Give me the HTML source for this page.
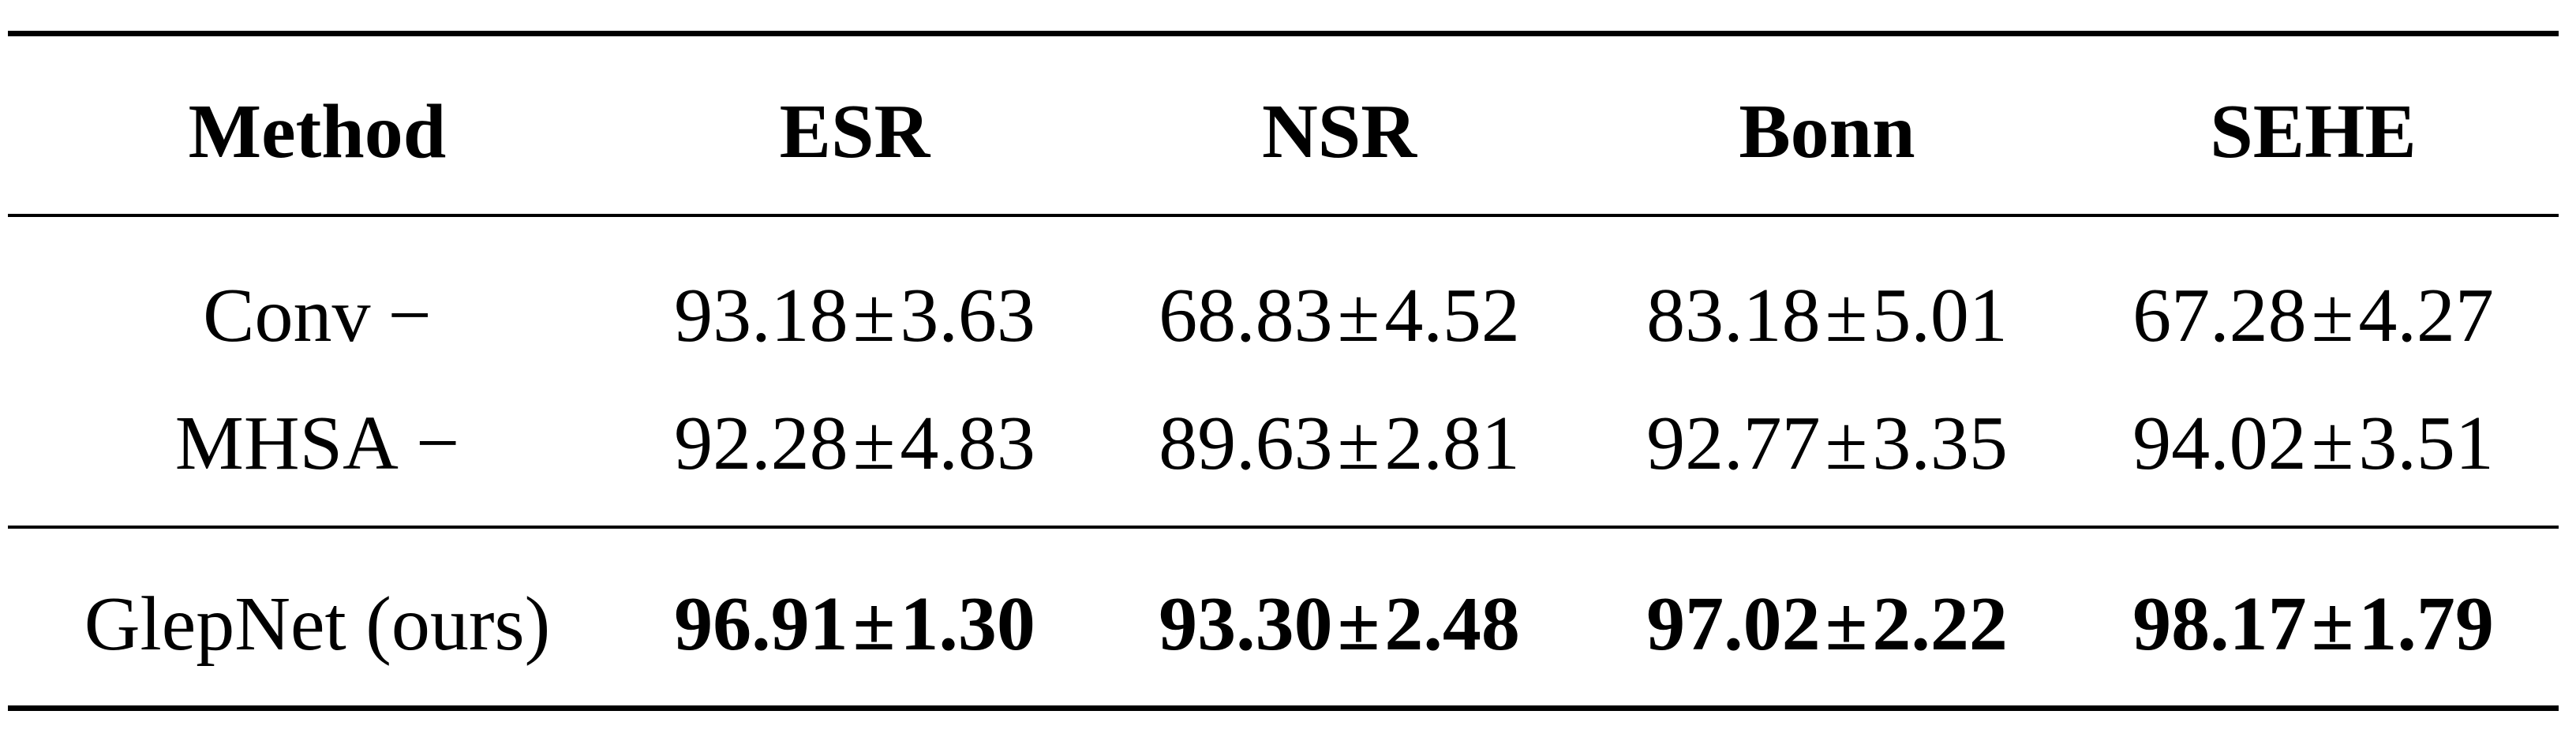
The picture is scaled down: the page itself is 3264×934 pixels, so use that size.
<!DOCTYPE html>
<html><head><meta charset="utf-8"><style>
html,body{margin:0;padding:0;background:#fff;}
#t{position:relative;width:3264px;height:934px;overflow:hidden;font-family:"Liberation Serif",serif;color:#000;}
.r{position:absolute;left:10px;width:3232px;background:#000;}
.c{position:absolute;width:800px;margin-left:-400px;text-align:center;font-size:98px;line-height:98px;transform:translateY(-50%);white-space:nowrap;}
.b{font-weight:bold;}
.pm{display:inline-block;margin:0 6px;}
.d{display:inline-block;margin-left:22px;}
</style></head><body>
<div id="t">
<div class="r" style="top:39px;height:7px"></div>
<div class="r" style="top:271px;height:4px"></div>
<div class="r" style="top:666px;height:4px"></div>
<div class="r" style="top:894px;height:7px"></div>

<div class="c b" style="left:402px;top:167px">Method</div>
<div class="c b" style="left:1083px;top:167px">ESR</div>
<div class="c b" style="left:1697px;top:167px">NSR</div>
<div class="c b" style="left:2315px;top:167px">Bonn</div>
<div class="c b" style="left:2931px;top:167px">SEHE</div>

<div class="c" style="left:402px;top:400px">Conv<span class="d">−</span></div>
<div class="c" style="left:1083px;top:400px">93.18<span class="pm">±</span>3.63</div>
<div class="c" style="left:1697px;top:400px">68.83<span class="pm">±</span>4.52</div>
<div class="c" style="left:2315px;top:400px">83.18<span class="pm">±</span>5.01</div>
<div class="c" style="left:2931px;top:400px">67.28<span class="pm">±</span>4.27</div>

<div class="c" style="left:402px;top:562px">MHSA<span class="d">−</span></div>
<div class="c" style="left:1083px;top:562px">92.28<span class="pm">±</span>4.83</div>
<div class="c" style="left:1697px;top:562px">89.63<span class="pm">±</span>2.81</div>
<div class="c" style="left:2315px;top:562px">92.77<span class="pm">±</span>3.35</div>
<div class="c" style="left:2931px;top:562px">94.02<span class="pm">±</span>3.51</div>

<div class="c" style="left:402px;top:791px">GlepNet (ours)</div>
<div class="c b" style="left:1083px;top:791px">96.91<span class="pm">±</span>1.30</div>
<div class="c b" style="left:1697px;top:791px">93.30<span class="pm">±</span>2.48</div>
<div class="c b" style="left:2315px;top:791px">97.02<span class="pm">±</span>2.22</div>
<div class="c b" style="left:2931px;top:791px">98.17<span class="pm">±</span>1.79</div>
</div>
</body></html>
